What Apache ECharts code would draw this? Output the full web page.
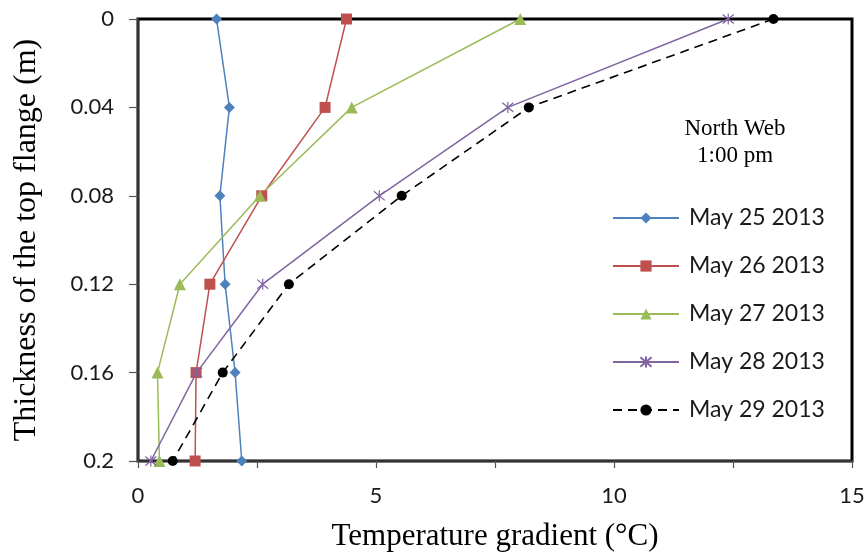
<!DOCTYPE html>
<html>
<head>
<meta charset="utf-8">
<script src="https://cdn.jsdelivr.net/npm/echarts@6/dist/echarts.min.js"></script>
<style>
html,body{margin:0;padding:0;background:#fff;}
#chart{width:868px;height:558px;}
</style>
</head>
<body>
<div id="chart"></div>
<script>
// Depth through the top flange (m), top surface at 0
const depths = [0, 0.04, 0.08, 0.12, 0.16, 0.2];

// Temperature gradient (°C) at each depth, one array per day
const may25 = [1.65, 1.92, 1.72, 1.83, 2.04, 2.18];
const may26 = [4.38, 3.93, 2.60, 1.51, 1.22, 1.20];
const may27 = [8.03, 4.49, 2.56, 0.88, 0.41, 0.45];
const may28 = [12.40, 7.77, 5.07, 2.62, 1.23, 0.27];
const may29 = [13.35, 8.21, 5.54, 3.17, 1.78, 0.73];

const seriesNames = ['May 25 2013', 'May 26 2013', 'May 27 2013', 'May 28 2013', 'May 29 2013'];
const xTicks = [0, 5, 10, 15];
const yTicks = [0, 0.04, 0.08, 0.12, 0.16, 0.2];

const pairs = vals => vals.map((v, i) => [v, depths[i]]);

// open asterisk marker: two diagonals and a vertical stroke
const asterisk = 'path://M0,0 L10,10 M10,0 L0,10 M5,-1 L5,11';

const chart = echarts.init(document.getElementById('chart'), null, {renderer: 'canvas'});

const tickFont = {fontFamily: 'Lato', fontSize: 22, color: '#1a1a1a'};

function lineSeries(name, vals, color, symbol, size, extra) {
  return Object.assign({
    name: name,
    type: 'line',
    data: pairs(vals),
    symbol: symbol,
    symbolSize: size,
    showSymbol: true,
    lineStyle: {color: color, width: 1.5},
    itemStyle: {color: color},
    z: 3
  }, extra || {});
}

chart.setOption({
  animation: false,
  backgroundColor: '#fff',
  grid: {
    left: 138, right: 16, top: 19, bottom: 97,
    outerBoundsMode: 'none',
    containLabel: false,
    show: true, borderColor: '#000', borderWidth: 3, backgroundColor: 'transparent'
  },
  xAxis: {
    type: 'value',
    min: 0, max: 15, interval: 2.5,
    name: 'Temperature gradient (°C)',
    nameLocation: 'middle',
    nameGap: 60,
    nameTextStyle: {fontFamily: 'Liberation Serif', fontSize: 31, color: '#000'},
    axisLine: {show: true, onZero: false, lineStyle: {color: '#333', width: 2}},
    axisTick: {show: true, length: 7, lineStyle: {color: '#555', width: 1.2}},
    axisLabel: Object.assign({
      margin: 24,
      formatter: v => (xTicks.indexOf(v) >= 0 ? String(v) : '')
    }, tickFont),
    splitLine: {show: false}
  },
  yAxis: {
    type: 'value',
    inverse: true,
    min: 0, max: 0.2, interval: 0.04,
    name: 'Thickness of the top flange (m)',
    nameLocation: 'middle',
    nameGap: 95,
    nameTextStyle: {fontFamily: 'Liberation Serif', fontSize: 32, color: '#000'},
    axisLine: {show: true, onZero: false, lineStyle: {color: '#333', width: 2}},
    axisTick: {show: true, length: 9, lineStyle: {color: '#555', width: 1.2}},
    axisLabel: Object.assign({
      margin: 24,
      formatter: v => {
        const hit = yTicks.find(t => Math.abs(t - v) < 1e-9);
        return hit === undefined ? '' : String(hit);
      }
    }, tickFont),
    splitLine: {show: false}
  },
  legend: {
    orient: 'vertical',
    left: 612,
    top: 206,
    padding: 0,
    itemWidth: 66,
    itemHeight: 14,
    itemGap: 24,
    textStyle: {fontFamily: 'Lato', fontSize: 23, lineHeight: 24, color: '#1a1a1a', padding: [0, 0, 0, 5]},
    data: seriesNames
  },
  graphic: [
    {
      type: 'text',
      x: 735, y: 115,
      style: {
        text: 'North Web\n1:00 pm',
        textAlign: 'center',
        font: '23px "Liberation Serif"',
        lineHeight: 27,
        fill: '#000'
      }
    }
  ],
  series: [
    lineSeries(seriesNames[0], may25, '#4F81BD', 'diamond', 11),
    lineSeries(seriesNames[1], may26, '#C0504D', 'rect', 11),
    lineSeries(seriesNames[2], may27, '#9BBB59', 'triangle', 12),
    lineSeries(seriesNames[3], may28, '#8064A2', asterisk, 11, {
      itemStyle: {color: 'none', borderColor: '#8064A2', borderWidth: 1.2}
    }),
    lineSeries(seriesNames[4], may29, '#000000', 'circle', 10, {
      lineStyle: {color: '#000', width: 1.6, type: [9, 6]},
      z: 4
    })
  ]
});
</script>
</body>
</html>
